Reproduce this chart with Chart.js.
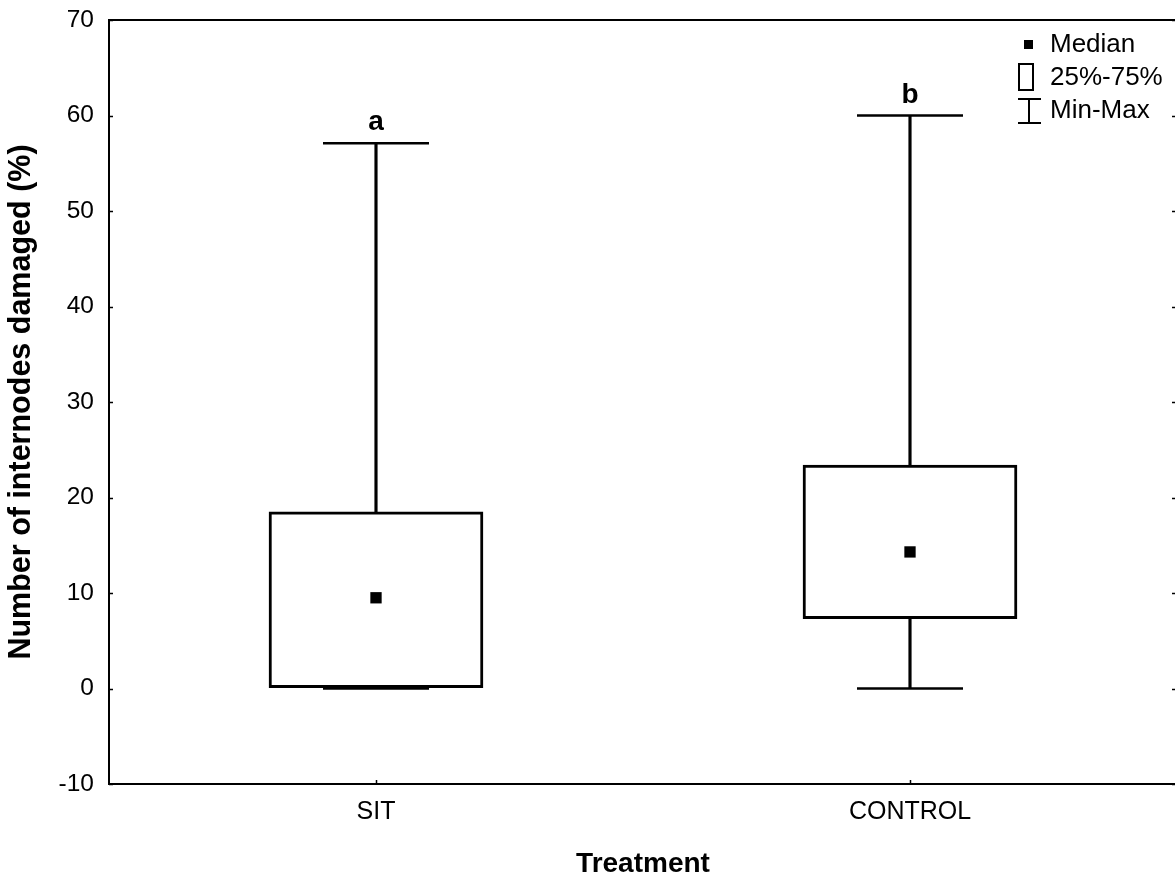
<!DOCTYPE html>
<html>
<head>
<meta charset="utf-8">
<script src="https://cdn.jsdelivr.net/npm/chart.js@4.4.1/dist/chart.umd.min.js"></script>
<style>
html,body{margin:0;padding:0;background:#fff;overflow:hidden;}
#wrap{width:1180px;height:881px;}
</style>
</head>
<body>
<div id="wrap"><canvas id="c" width="1180" height="881"></canvas></div>
<script>
// ---- data ----
const categories = ['SIT', 'CONTROL'];
const minValues = [0, 0];
const q1Values = [0.1, 7.3];
const medianValues = [9.5, 14.3];
const q3Values = [18.5, 23.4];
const maxValues = [57.1, 60];
const groupLetters = ['a', 'b'];
const yTickMin = -10, yTickMax = 70, yTickStep = 10;
const legendLabels = ['Median', '25%-75%', 'Min-Max'];
const xTitle = 'Treatment';
const yTitle = 'Number of internodes damaged (%)';

const FONT = '"Liberation Sans", Arial, sans-serif';

const whiskerData = categories.map((c, i) => [minValues[i], maxValues[i]]);
const boxData = categories.map((c, i) => [q1Values[i], q3Values[i]]);

function noPad(s) {
  s.paddingLeft = 0; s.paddingRight = 0; s.paddingTop = 0; s.paddingBottom = 0;
}

const decorPlugin = {
  id: 'decor',
  afterDraw(chart) {
    const ctx = chart.ctx;
    const a = chart.chartArea;
    const xs = chart.scales.x, ys = chart.scales.y;
    ctx.save();
    ctx.strokeStyle = '#000';
    ctx.fillStyle = '#000';
    // top border
    ctx.lineWidth = 2;
    ctx.beginPath();
    ctx.moveTo(a.left - 1, a.top);
    ctx.lineTo(a.right + 2, a.top);
    ctx.stroke();
    // right border
    ctx.beginPath();
    ctx.moveTo(a.right, a.top);
    ctx.lineTo(a.right, a.bottom);
    ctx.stroke();
    // inward ticks on y axes
    ctx.lineWidth = 1.5;
    for (let v = yTickMin; v <= yTickMax; v += yTickStep) {
      const py = Math.round(ys.getPixelForValue(v)) + 0.5;
      ctx.beginPath();
      ctx.moveTo(a.left, py); ctx.lineTo(a.left + 4, py);
      ctx.moveTo(a.right, py); ctx.lineTo(a.right - 5, py);
      ctx.stroke();
    }
    // inward ticks on x axis
    categories.forEach((c, i) => {
      const px = Math.round(xs.getPixelForValue(i)) + 0.5;
      ctx.beginPath();
      ctx.moveTo(px, a.bottom); ctx.lineTo(px, a.bottom - 4);
      ctx.stroke();
    });
    // group letters
    ctx.font = 'bold 28px ' + FONT;
    ctx.textAlign = 'center';
    ctx.textBaseline = 'alphabetic';
    groupLetters.forEach((l, i) => {
      const px = xs.getPixelForValue(i);
      const py = ys.getPixelForValue(maxValues[i]);
      ctx.fillText(l, px, py - 13);
    });
    // legend
    ctx.font = '26px ' + FONT;
    ctx.textAlign = 'left';
    ctx.textBaseline = 'middle';
    const lx = 1050;
    // median marker
    ctx.fillRect(1024, 40, 9, 9);
    ctx.fillText(legendLabels[0], lx, 45);
    // box marker
    ctx.lineWidth = 2;
    ctx.strokeRect(1019, 64, 14, 26);
    ctx.fillText(legendLabels[1], lx, 78);
    // min-max marker
    ctx.beginPath();
    ctx.moveTo(1029, 99); ctx.lineTo(1029, 123);
    ctx.moveTo(1018, 99); ctx.lineTo(1041, 99);
    ctx.moveTo(1018, 123); ctx.lineTo(1041, 123);
    ctx.stroke();
    ctx.fillText(legendLabels[2], lx, 111);
    ctx.restore();
  }
};

new Chart(document.getElementById('c'), {
  type: 'bar',
  data: {
    labels: categories,
    datasets: [
      {
        type: 'line', label: 'Median', data: medianValues,
        showLine: false, pointStyle: 'rect', pointRadius: 8,
        backgroundColor: '#000', borderColor: '#000', borderWidth: 0, order: 1
      },
      {
        type: 'bar', label: '25%-75%', data: boxData,
        backgroundColor: '#fff', borderColor: '#000', borderWidth: 3,
        borderSkipped: false, barThickness: 214, grouped: false, order: 2
      },
      {
        type: 'line', label: 'Max', data: maxValues,
        showLine: false, pointStyle: 'line', pointRadius: 53,
        borderColor: '#000', borderWidth: 2.5, order: 3
      },
      {
        type: 'line', label: 'Min', data: minValues,
        showLine: false, pointStyle: 'line', pointRadius: 53,
        borderColor: '#000', borderWidth: 2.5, order: 4
      },
      {
        type: 'bar', label: 'Min-Max', data: whiskerData,
        backgroundColor: '#000', borderWidth: 0, barThickness: 2.5,
        grouped: false, order: 5
      }
    ]
  },
  options: {
    responsive: false,
    animation: false,
    events: [],
    layout: { autoPadding: false, padding: { left: 0, top: 20, right: 3, bottom: 0 } },
    plugins: { legend: { display: false }, tooltip: { enabled: false } },
    scales: {
      x: {
        type: 'category',
        offset: true,
        grid: { display: false, drawTicks: false },
        border: { display: true, color: '#000', width: 2 },
        ticks: { color: '#000', font: { family: FONT, size: 25 }, padding: 13, maxRotation: 0 },
        title: { display: true, text: xTitle, color: '#000', font: { family: FONT, size: 28, weight: 'bold' }, padding: { top: 0, bottom: 0 } },
        afterFit(s) { s.height = 97; noPad(s); }
      },
      y: {
        min: yTickMin, max: yTickMax,
        grid: { display: false, drawTicks: false },
        border: { display: true, color: '#000', width: 2 },
        ticks: { stepSize: yTickStep, color: '#000', font: { family: FONT, size: 24.5 }, padding: 15 },
        title: { display: true, text: yTitle, color: '#000', font: { family: FONT, size: 30.5, weight: 'bold' }, padding: { top: 3, bottom: 0 } },
        afterFit(s) { s.width = 109; noPad(s); }
      }
    }
  },
  plugins: [decorPlugin]
});
</script>
</body>
</html>
